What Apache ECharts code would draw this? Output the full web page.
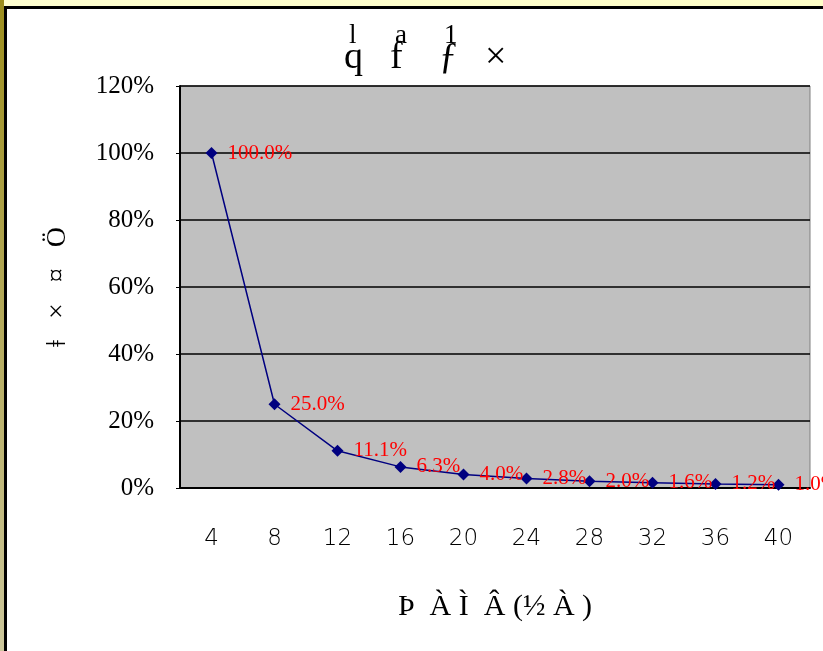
<!DOCTYPE html>
<html><head><meta charset="utf-8">
<script src="https://cdn.jsdelivr.net/npm/echarts@6/dist/echarts.min.js"></script>
<style>
html,body{margin:0;padding:0;width:823px;height:651px;overflow:hidden;background:#fff;}
#top{position:absolute;left:0;top:0;width:823px;height:6px;background:linear-gradient(to right,#ffffd0,#ffffc8);}
#left{position:absolute;left:0;top:0;width:4px;height:651px;background:linear-gradient(to bottom,#9c8e1e,#ccc79c);}
#frameT{position:absolute;left:4px;top:6px;width:819px;height:3px;background:#000;}
#frameL{position:absolute;left:4px;top:6px;width:3px;height:645px;background:#000;}
#chart{position:absolute;left:0;top:0;width:823px;height:651px;}
</style></head><body>
<div id="top"></div><div id="left"></div><div id="frameT"></div><div id="frameL"></div>
<div id="chart"></div>
<script>
const categories = ['4','8','12','16','20','24','28','32','36','40'];
const values = [100, 25, 11.1, 6.3, 4.0, 2.8, 2.0, 1.6, 1.2, 1.0];
const titleGlyphs = ['q','f','ƒ','×'];
const titleMarks = ['l','a','1',''];
const yName = 'ǂ   ×   ¤   Ö';
const xName = 'Þ  À Ì  Â (½ À )';

const titleX = [356, 402, 451, 497];
const serif = 'Liberation Serif';
const graphics = [];
titleGlyphs.forEach((g, i) => {
  graphics.push({type:'text', left: titleX[i] - 12, top: 39,
    style:{text:g, font:'38px "' + serif + '"', fill:'#000'}});
  if (titleMarks[i]) graphics.push({type:'text', left: titleX[i] - 7, top: 22,
    style:{text:titleMarks[i], font:'27px "' + serif + '"', fill:'#000'}});
});

const chart = echarts.init(document.getElementById('chart'));
chart.setOption({
  backgroundColor: 'transparent',
  animation: false,
  graphic: graphics,
  grid: {left:180, right:13, top:86, bottom:163, show:true, backgroundColor:'#c0c0c0', borderColor:'#808080', borderWidth:1},
  xAxis: {
    type:'category', data: categories, boundaryGap:true,
    name: xName, nameLocation:'middle', nameGap:104,
    nameTextStyle:{fontFamily:serif, fontSize:30, color:'#000'},
    axisLine:{lineStyle:{color:'#000', width:2}},
    axisTick:{inside:true, length:9, lineStyle:{color:'#000', width:2}},
    axisLabel:{margin:40, fontFamily:'DejaVu Sans', fontSize:23, color:'#000', fontWeight:'lighter'}
  },
  yAxis: {
    type:'value', min:0, max:120, interval:20,
    name: yName, nameLocation:'middle', nameGap:108, nameRotate:90,
    nameTextStyle:{fontFamily:serif, fontSize:28, color:'#000'},
    axisLine:{show:true, lineStyle:{color:'#000', width:2}},
    axisTick:{show:true, length:4, lineStyle:{color:'#000'}},
    axisLabel:{margin:26, fontFamily:serif, fontSize:25, color:'#000', formatter:'{value}%'},
    splitLine:{lineStyle:{color:'#000', width:1.5}}
  },
  series: [{
    type:'line', data: values,
    lineStyle:{color:'#000080', width:1.5},
    itemStyle:{color:'#000080'},
    symbol:'diamond', symbolSize:12, showAllSymbol:true,
    label:{show:true, position:'right', distance:10, color:'#ff0000',
      fontFamily:serif, fontSize:21,
      formatter: p => p.value.toFixed(1) + '%'}
  }]
});
</script>
</body></html>
